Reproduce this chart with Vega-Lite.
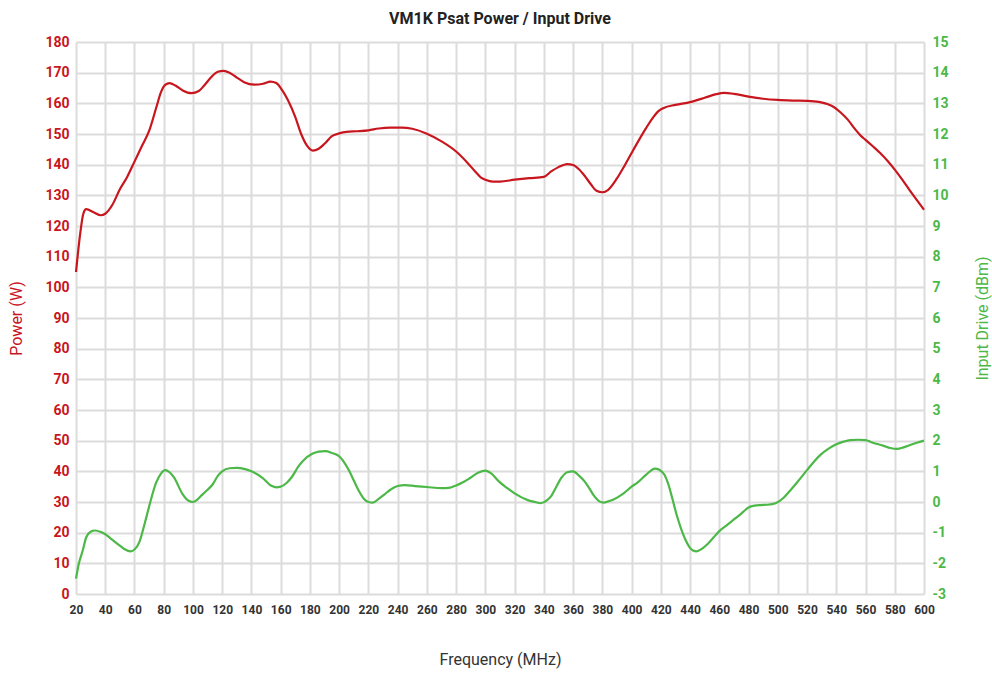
{
  "$schema": "https://vega.github.io/schema/vega-lite/v6.json",
  "width": 848,
  "height": 552,
  "autosize": {"type": "none"},
  "padding": {"left": 76, "top": 42, "right": 68, "bottom": 79},
  "background": "white",
  "title": {"text": "VM1K Psat Power / Input Drive", "font": "Roboto", "fontSize": 16, "fontWeight": "bold", "color": "#222222", "frame": "group", "anchor": "middle", "baseline": "alphabetic", "offset": -5},
  "config": {
    "view": {"stroke": null},
    "axis": {"domain": false, "ticks": false, "labelFont": "Roboto", "titleFont": "Roboto", "gridColor": "#dcdcdc", "gridWidth": 2, "labelOverlap": false, "labelFlush": false, "labelBound": false}
  },
  "datasets": {
    "power": [
      {"freq": 20, "power": 105}, {"freq": 23, "power": 118}, {"freq": 25, "power": 124}, {"freq": 27, "power": 125.5},
      {"freq": 32, "power": 124.5}, {"freq": 37, "power": 123.5}, {"freq": 40, "power": 124}, {"freq": 45, "power": 127},
      {"freq": 50, "power": 132}, {"freq": 55, "power": 136}, {"freq": 60, "power": 141}, {"freq": 65, "power": 146},
      {"freq": 70, "power": 151}, {"freq": 75, "power": 158.8}, {"freq": 78, "power": 163.5}, {"freq": 81, "power": 166},
      {"freq": 84, "power": 166.6}, {"freq": 88, "power": 165.8}, {"freq": 93, "power": 164.2}, {"freq": 99, "power": 163.3},
      {"freq": 104, "power": 164}, {"freq": 108, "power": 166}, {"freq": 113, "power": 168.8}, {"freq": 117, "power": 170.3},
      {"freq": 121, "power": 170.6}, {"freq": 125, "power": 170}, {"freq": 130, "power": 168.4}, {"freq": 135, "power": 166.9},
      {"freq": 142, "power": 166.1}, {"freq": 148, "power": 166.4}, {"freq": 153, "power": 167.1}, {"freq": 157, "power": 166.6},
      {"freq": 161, "power": 164.3}, {"freq": 165, "power": 161}, {"freq": 170, "power": 155.5}, {"freq": 174, "power": 150},
      {"freq": 178, "power": 146.2}, {"freq": 182, "power": 144.6}, {"freq": 186, "power": 145.2}, {"freq": 190, "power": 146.8},
      {"freq": 195, "power": 149.3}, {"freq": 200, "power": 150.2}, {"freq": 205, "power": 150.7}, {"freq": 212, "power": 150.9},
      {"freq": 220, "power": 151.2}, {"freq": 227, "power": 151.8}, {"freq": 235, "power": 152.1}, {"freq": 243, "power": 152.1},
      {"freq": 250, "power": 151.7}, {"freq": 260, "power": 150.1}, {"freq": 270, "power": 147.6}, {"freq": 280, "power": 144.3},
      {"freq": 288, "power": 140.5}, {"freq": 293, "power": 137.8}, {"freq": 297, "power": 135.8}, {"freq": 300, "power": 135.1},
      {"freq": 305, "power": 134.5}, {"freq": 310, "power": 134.5}, {"freq": 320, "power": 135.1}, {"freq": 330, "power": 135.6},
      {"freq": 340, "power": 136}, {"freq": 345, "power": 137.8}, {"freq": 350, "power": 139.2}, {"freq": 356, "power": 140.2},
      {"freq": 360, "power": 139.9}, {"freq": 364, "power": 138.5}, {"freq": 368, "power": 136.3}, {"freq": 372, "power": 133.7},
      {"freq": 376, "power": 131.5}, {"freq": 380, "power": 131}, {"freq": 384, "power": 131.8}, {"freq": 390, "power": 135.5},
      {"freq": 395, "power": 139.5}, {"freq": 400, "power": 143.8}, {"freq": 405, "power": 148}, {"freq": 410, "power": 152},
      {"freq": 415, "power": 155.6}, {"freq": 418, "power": 157.3}, {"freq": 422, "power": 158.5}, {"freq": 430, "power": 159.5},
      {"freq": 440, "power": 160.4}, {"freq": 450, "power": 161.8}, {"freq": 458, "power": 163}, {"freq": 463, "power": 163.4},
      {"freq": 470, "power": 163.1}, {"freq": 480, "power": 162.2}, {"freq": 490, "power": 161.5}, {"freq": 500, "power": 161.1},
      {"freq": 510, "power": 160.9}, {"freq": 520, "power": 160.8}, {"freq": 528, "power": 160.5}, {"freq": 533, "power": 159.9},
      {"freq": 538, "power": 158.9}, {"freq": 543, "power": 157}, {"freq": 548, "power": 154.6}, {"freq": 553, "power": 151.5},
      {"freq": 557, "power": 149.3}, {"freq": 560, "power": 148.1}, {"freq": 565, "power": 146}, {"freq": 570, "power": 143.8},
      {"freq": 575, "power": 141.3}, {"freq": 580, "power": 138.4}, {"freq": 585, "power": 135.2}, {"freq": 590, "power": 131.8},
      {"freq": 595, "power": 128.5}, {"freq": 600, "power": 125.3}
    ],
    "drive": [
      {"freq": 20, "drive": -2.5}, {"freq": 22, "drive": -2.0}, {"freq": 24.5, "drive": -1.6}, {"freq": 27, "drive": -1.15},
      {"freq": 30, "drive": -0.97}, {"freq": 33, "drive": -0.93}, {"freq": 37, "drive": -0.98}, {"freq": 40, "drive": -1.05},
      {"freq": 44, "drive": -1.2}, {"freq": 48.6, "drive": -1.37}, {"freq": 53, "drive": -1.53}, {"freq": 57.5, "drive": -1.61},
      {"freq": 60, "drive": -1.55}, {"freq": 63.4, "drive": -1.3}, {"freq": 67, "drive": -0.7}, {"freq": 70, "drive": -0.15},
      {"freq": 74.8, "drive": 0.63}, {"freq": 78, "drive": 0.92}, {"freq": 81, "drive": 1.04}, {"freq": 84, "drive": 0.97},
      {"freq": 87, "drive": 0.8}, {"freq": 93, "drive": 0.25}, {"freq": 97, "drive": 0.04}, {"freq": 100, "drive": 0.0},
      {"freq": 103, "drive": 0.08}, {"freq": 106.6, "drive": 0.25}, {"freq": 110, "drive": 0.4}, {"freq": 113.4, "drive": 0.57},
      {"freq": 117, "drive": 0.85}, {"freq": 120, "drive": 1.0}, {"freq": 125, "drive": 1.1}, {"freq": 130, "drive": 1.11},
      {"freq": 135, "drive": 1.08}, {"freq": 140, "drive": 1.0}, {"freq": 147.5, "drive": 0.79}, {"freq": 154, "drive": 0.52},
      {"freq": 157, "drive": 0.48}, {"freq": 160, "drive": 0.5}, {"freq": 164, "drive": 0.62}, {"freq": 168, "drive": 0.84},
      {"freq": 172, "drive": 1.15}, {"freq": 175, "drive": 1.33}, {"freq": 181.6, "drive": 1.57}, {"freq": 186, "drive": 1.64},
      {"freq": 190.7, "drive": 1.66}, {"freq": 195, "drive": 1.6}, {"freq": 200, "drive": 1.49}, {"freq": 204, "drive": 1.25},
      {"freq": 207, "drive": 1.0}, {"freq": 210, "drive": 0.7}, {"freq": 213.6, "drive": 0.35}, {"freq": 217, "drive": 0.1},
      {"freq": 220, "drive": 0.0}, {"freq": 223, "drive": -0.02}, {"freq": 227, "drive": 0.1}, {"freq": 231, "drive": 0.25},
      {"freq": 235, "drive": 0.4}, {"freq": 240, "drive": 0.52}, {"freq": 245, "drive": 0.55}, {"freq": 252, "drive": 0.52},
      {"freq": 260, "drive": 0.49}, {"freq": 270, "drive": 0.45}, {"freq": 276, "drive": 0.47}, {"freq": 280, "drive": 0.54},
      {"freq": 285, "drive": 0.65}, {"freq": 290, "drive": 0.8}, {"freq": 295, "drive": 0.95}, {"freq": 300, "drive": 1.02},
      {"freq": 304, "drive": 0.93}, {"freq": 309, "drive": 0.68}, {"freq": 315, "drive": 0.45}, {"freq": 320, "drive": 0.28},
      {"freq": 329, "drive": 0.06}, {"freq": 334, "drive": 0.0}, {"freq": 338, "drive": -0.04}, {"freq": 342, "drive": 0.05},
      {"freq": 345, "drive": 0.19}, {"freq": 348, "drive": 0.45}, {"freq": 352, "drive": 0.79}, {"freq": 356, "drive": 0.97},
      {"freq": 360, "drive": 1.0}, {"freq": 364, "drive": 0.86}, {"freq": 367.7, "drive": 0.68}, {"freq": 371, "drive": 0.45},
      {"freq": 374.5, "drive": 0.19}, {"freq": 378, "drive": 0.02}, {"freq": 381, "drive": -0.02}, {"freq": 384, "drive": 0.02},
      {"freq": 388, "drive": 0.09}, {"freq": 392, "drive": 0.2}, {"freq": 395, "drive": 0.3}, {"freq": 400, "drive": 0.5},
      {"freq": 404, "drive": 0.63}, {"freq": 410, "drive": 0.89}, {"freq": 416, "drive": 1.09}, {"freq": 419, "drive": 1.05},
      {"freq": 422.5, "drive": 0.89}, {"freq": 425, "drive": 0.6}, {"freq": 428, "drive": 0.09}, {"freq": 431, "drive": -0.45},
      {"freq": 434, "drive": -0.89}, {"freq": 437, "drive": -1.25}, {"freq": 439.7, "drive": -1.48}, {"freq": 442, "drive": -1.58},
      {"freq": 444.5, "drive": -1.61}, {"freq": 448, "drive": -1.53}, {"freq": 452, "drive": -1.37}, {"freq": 456, "drive": -1.16},
      {"freq": 460, "drive": -0.95}, {"freq": 465, "drive": -0.76}, {"freq": 470, "drive": -0.57}, {"freq": 475, "drive": -0.38},
      {"freq": 480, "drive": -0.18}, {"freq": 484, "drive": -0.12}, {"freq": 488.5, "drive": -0.1}, {"freq": 493, "drive": -0.09},
      {"freq": 498.5, "drive": -0.04}, {"freq": 504, "drive": 0.14}, {"freq": 508, "drive": 0.35}, {"freq": 513, "drive": 0.63},
      {"freq": 520, "drive": 1.04}, {"freq": 525, "drive": 1.33}, {"freq": 529, "drive": 1.53}, {"freq": 535, "drive": 1.75},
      {"freq": 540, "drive": 1.88}, {"freq": 545, "drive": 1.97}, {"freq": 549.5, "drive": 2.02}, {"freq": 555, "drive": 2.03},
      {"freq": 560, "drive": 2.02}, {"freq": 564, "drive": 1.95}, {"freq": 568, "drive": 1.89}, {"freq": 572, "drive": 1.84},
      {"freq": 577, "drive": 1.76}, {"freq": 581.5, "drive": 1.73}, {"freq": 586, "drive": 1.78}, {"freq": 590.5, "drive": 1.86},
      {"freq": 595, "drive": 1.93}, {"freq": 600, "drive": 2.0}
    ]
  },
  "encoding": {
    "x": {
      "field": "freq", "type": "quantitative",
      "scale": {"domain": [20, 600], "nice": false, "zero": false},
      "axis": {
        "values": [20,40,60,80,100,120,140,160,180,200,220,240,260,280,300,320,340,360,380,400,420,440,460,480,500,520,540,560,580,600],
        "tickCount": 60,
        "labelExpr": "datum.value + ''",
        "title": "Frequency (MHz)", "grid": true,
        "labelFontWeight": "bold", "labelFontSize": 12, "labelColor": "#333333", "labelPadding": 10,
        "titleFontSize": 16, "titleFontWeight": "normal", "titleColor": "#333333", "titlePadding": 36
      }
    }
  },
  "layer": [
    {
      "data": {"name": "power"},
      "mark": {"type": "line", "interpolate": "monotone", "color": "#C8161E", "strokeWidth": 2.2},
      "encoding": {
        "y": {
          "field": "power", "type": "quantitative",
          "scale": {"domain": [0, 180], "nice": false},
          "axis": {
            "values": [0,10,20,30,40,50,60,70,80,90,100,110,120,130,140,150,160,170,180],
            "tickCount": 40,
            "labelExpr": "datum.value + ''",
            "title": "Power (W)", "grid": true,
            "labelColor": "#C8161E", "labelFontWeight": "bold", "labelFontSize": 14, "labelPadding": 7,
            "titleColor": "#C8161E", "titleFontSize": 16, "titleFontWeight": "normal", "titlePadding": 20
          }
        }
      }
    },
    {
      "data": {"name": "drive"},
      "mark": {"type": "line", "interpolate": "monotone", "color": "#4CB847", "strokeWidth": 2.2},
      "encoding": {
        "y": {
          "field": "drive", "type": "quantitative",
          "scale": {"domain": [-3, 15], "nice": false, "zero": false},
          "axis": {
            "orient": "right",
            "values": [-3,-2,-1,0,1,2,3,4,5,6,7,8,9,10,11,12,13,14,15],
            "tickCount": 40,
            "labelExpr": "datum.value + ''",
            "title": "Input Drive  (dBm)", "grid": false,
            "labelColor": "#4CB847", "labelFontWeight": "bold", "labelFontSize": 14, "labelPadding": 8,
            "titleColor": "#4CB847", "titleFontSize": 16, "titleFontWeight": "normal",
            "titleAngle": 270, "titleBaseline": "top", "titlePadding": 26
          }
        }
      }
    }
  ],
  "resolve": {"scale": {"y": "independent"}}
}
